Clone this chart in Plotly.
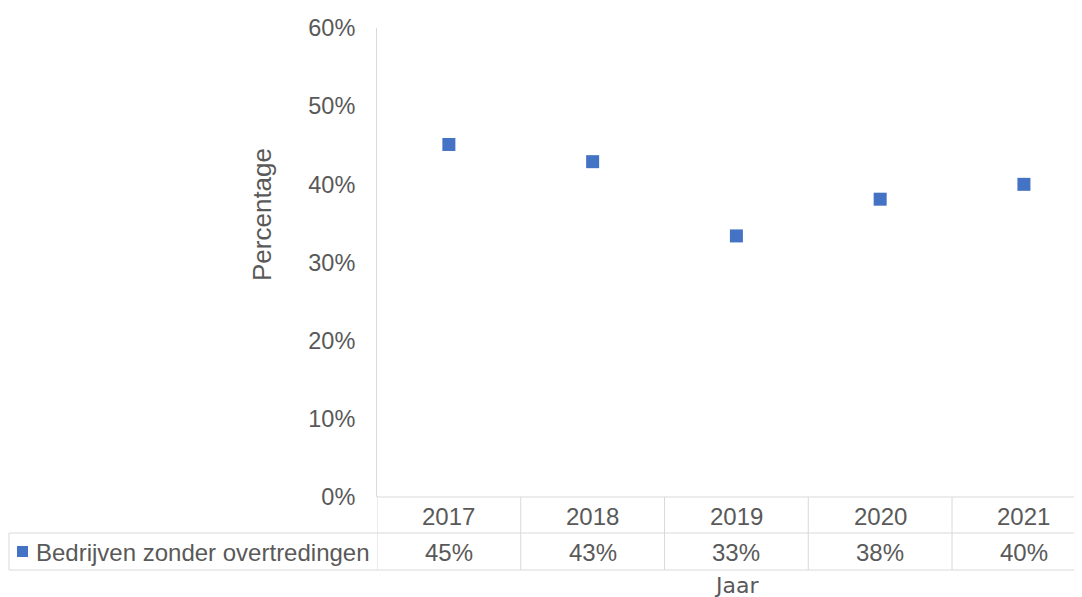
import plotly.graph_objects as go

years = ["2017", "2018", "2019", "2020", "2021"]
values = [45.1, 42.9, 33.4, 38.1, 40.0]
series_name = "Bedrijven zonder overtredingen"
y_ticks = [0, 10, 20, 30, 40, 50, 60]
y_title = "Percentage"
x_title = "Jaar"

OFF = 8  # page body margin offset
W, H = 1082 - OFF, 597 - OFF
L, T, B = 377 - OFF, 28 - OFF, 497 - OFF
R = W
color = "#4472C4"
grey = "#d9d9d9"
txt = "#595959"
font = "Liberation Sans, Arial, sans-serif"


def xp(px):
    return (px - OFF - L) / (R - L)


def yp(py):
    return (B - (py - OFF)) / (B - T)


xs = list(range(len(years)))
fig = go.Figure()
fig.add_trace(go.Scatter(
    x=xs, y=values, mode="markers", name=series_name,
    marker=dict(symbol="square", size=13, color=color),
    showlegend=False,
))

fig.update_layout(
    width=W, height=H,
    margin=dict(l=L, r=W - R, t=T, b=H - B),
    paper_bgcolor="white", plot_bgcolor="white",
    font=dict(family=font, size=24, color=txt),
)
fig.update_xaxes(range=[-0.5, 4.404], showticklabels=False, showgrid=False,
                 zeroline=False, showline=False, fixedrange=True)
fig.update_yaxes(range=[0, 60], tickvals=y_ticks,
                 ticktext=[f"{v}%" for v in y_ticks],
                 showgrid=False, zeroline=False, showline=True, linecolor=grey,
                 linewidth=1, ticks="", ticklabelstandoff=16,
                 tickfont=dict(size=23.5, color=txt, family=font))

shapes = []
r1, r2, r3 = 497, 533, 570
shapes.append(dict(type="line", xref="paper", yref="paper", x0=0, x1=1,
                   y0=yp(r1), y1=yp(r1), line=dict(color=grey, width=1)))
for r in (r2, r3):
    shapes.append(dict(type="line", xref="paper", yref="paper", x0=xp(9), x1=1,
                       y0=yp(r), y1=yp(r), line=dict(color=grey, width=1)))
shapes.append(dict(type="line", xref="paper", yref="paper", x0=xp(9), x1=xp(9),
                   y0=yp(r2), y1=yp(r3), line=dict(color=grey, width=1)))
for i in range(len(years)):
    shapes.append(dict(type="line", xref="x", yref="paper", x0=i - 0.5, x1=i - 0.5,
                       y0=yp(r1), y1=yp(r3), line=dict(color=grey, width=1)))
shapes.append(dict(type="rect", xref="paper", yref="paper", x0=xp(17), x1=xp(28),
                   y0=yp(557), y1=yp(546), fillcolor=color, line=dict(width=0)))
fig.update_layout(shapes=shapes)

ann = []
for i, (yr, v) in enumerate(zip(years, values)):
    ann.append(dict(x=i, y=yp((r1 + r2) / 2 + 1), xref="x", yref="paper", text=yr,
                    showarrow=False, font=dict(size=24, color=txt), yanchor="middle"))
    ann.append(dict(x=i, y=yp((r2 + r3) / 2 + 1), xref="x", yref="paper",
                    text=f"{round(v)}%", showarrow=False,
                    font=dict(size=24, color=txt), yanchor="middle"))
ann.append(dict(x=xp(34), y=yp((r2 + r3) / 2 + 1), xref="paper", yref="paper",
                text=series_name, showarrow=False, xanchor="left", yanchor="middle",
                font=dict(size=24, color=txt)))
ann.append(dict(x=xp(262), y=yp(215), xref="paper", yref="paper", text=y_title,
                textangle=-90, showarrow=False, xanchor="center", yanchor="middle",
                font=dict(size=26, color=txt)))
ann.append(dict(x=2, y=yp(585), xref="x", yref="paper",
                text=x_title, showarrow=False, xanchor="center", yanchor="middle",
                font=dict(size=22, color=txt, family="DejaVu Sans, sans-serif")))
fig.update_layout(annotations=ann)

fig.write_html("out.html")
